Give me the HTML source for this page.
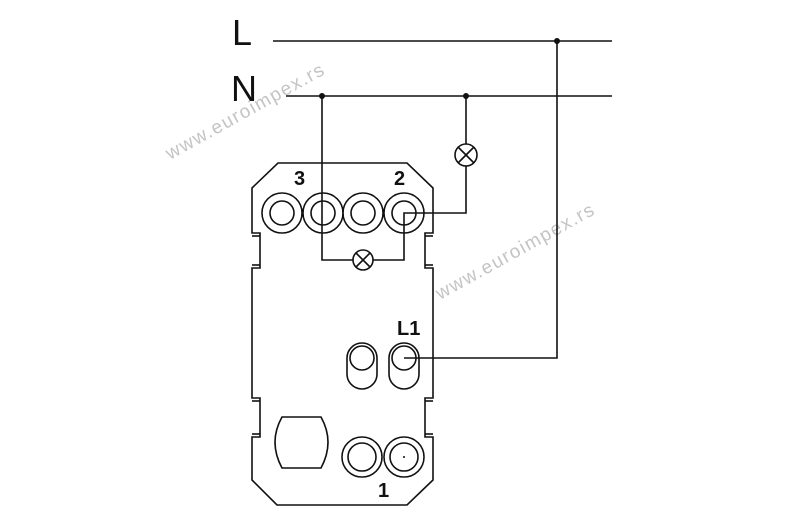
<!DOCTYPE html>
<html><head><style>body{margin:0;background:#fff}</style></head><body>
<svg width="800" height="523" viewBox="0 0 800 523" xmlns="http://www.w3.org/2000/svg">
<g font-family="Liberation Sans, sans-serif" fill="#c4c4c4" font-size="19" letter-spacing="1.5">
<text x="0" y="0" transform="translate(170,160) rotate(-29)">www.euroimpex.rs</text>
<text x="0" y="0" transform="translate(440,300) rotate(-29)">www.euroimpex.rs</text>
</g>
<g stroke="#111" stroke-width="1.6" fill="none">
<path d="M278,163 L407,163 L433,188 L433,233 L425,233 L425,268 L433,268 L433,398 L425,398 L425,437 L433,437 L433,480 L407,505 L277,505 L252,480 L252,437 L260,437 L260,398 L252,398 L252,268 L260,268 L260,233 L252,233 L252,188 Z"/>
<line x1="252" y1="236" x2="260" y2="236"/><line x1="252" y1="265" x2="260" y2="265"/>
<line x1="425" y1="236" x2="433" y2="236"/><line x1="425" y1="265" x2="433" y2="265"/>
<line x1="252" y1="401" x2="260" y2="401"/><line x1="252" y1="434" x2="260" y2="434"/>
<line x1="425" y1="401" x2="433" y2="401"/><line x1="425" y1="434" x2="433" y2="434"/>
<circle cx="282" cy="213" r="20"/><circle cx="323" cy="213" r="20"/>
<circle cx="363" cy="213" r="20"/><circle cx="404" cy="213" r="20"/>
<circle cx="362" cy="457" r="20"/><circle cx="404" cy="457" r="20"/>
</g>
<g fill="#fff">
<circle cx="282" cy="213" r="19.1"/><circle cx="323" cy="213" r="19.1"/>
<circle cx="363" cy="213" r="19.1"/><circle cx="404" cy="213" r="19.1"/>
<circle cx="362" cy="457" r="19.1"/><circle cx="404" cy="457" r="19.1"/>
</g>
<g stroke="#111" stroke-width="1.6" fill="none">
<circle cx="282" cy="213" r="12"/><circle cx="323" cy="213" r="12"/>
<circle cx="363" cy="213" r="12"/><circle cx="404" cy="213" r="12"/>
<circle cx="362" cy="457" r="14"/><circle cx="404" cy="457" r="14"/>
<line x1="273" y1="41" x2="612" y2="41"/>
<line x1="286" y1="96" x2="612" y2="96"/>
<polyline points="557,41 557,358 404,358"/>
<polyline points="322,96 322,260 353,260"/>
<polyline points="373,260 404,260 404,213 466,213 466,166"/>
<line x1="466" y1="96" x2="466" y2="144"/>
<circle cx="466" cy="155" r="11"/>
<path d="M458,147 L474,163 M474,147 L458,163"/>
<circle cx="363" cy="260" r="10"/>
<path d="M356,253 L370,267 M370,253 L356,267"/>
<rect x="347" y="343" width="30" height="46" rx="15"/>
<rect x="389" y="343" width="30" height="46" rx="15"/>
<circle cx="362" cy="358" r="12"/><circle cx="404" cy="358" r="12"/>
<path d="M282,417 L321,417 Q335,442 321,468 L282,468 Q268,442 282,417 Z"/>
</g>
<g fill="#111">
<circle cx="557" cy="41" r="3"/><circle cx="322" cy="96" r="3"/><circle cx="466" cy="96" r="3"/>
<circle cx="404" cy="457" r="1"/>
</g>
<g font-family="Liberation Sans, sans-serif" fill="#111">
<text x="232" y="45" font-size="36">L</text>
<text x="231" y="101" font-size="36">N</text>
<text x="294" y="185" font-size="20" font-weight="bold">3</text>
<text x="394" y="185" font-size="20" font-weight="bold">2</text>
<text x="397" y="335" font-size="20" font-weight="bold">L1</text>
<text x="378" y="497" font-size="20" font-weight="bold">1</text>
</g>
</svg>
</body></html>
